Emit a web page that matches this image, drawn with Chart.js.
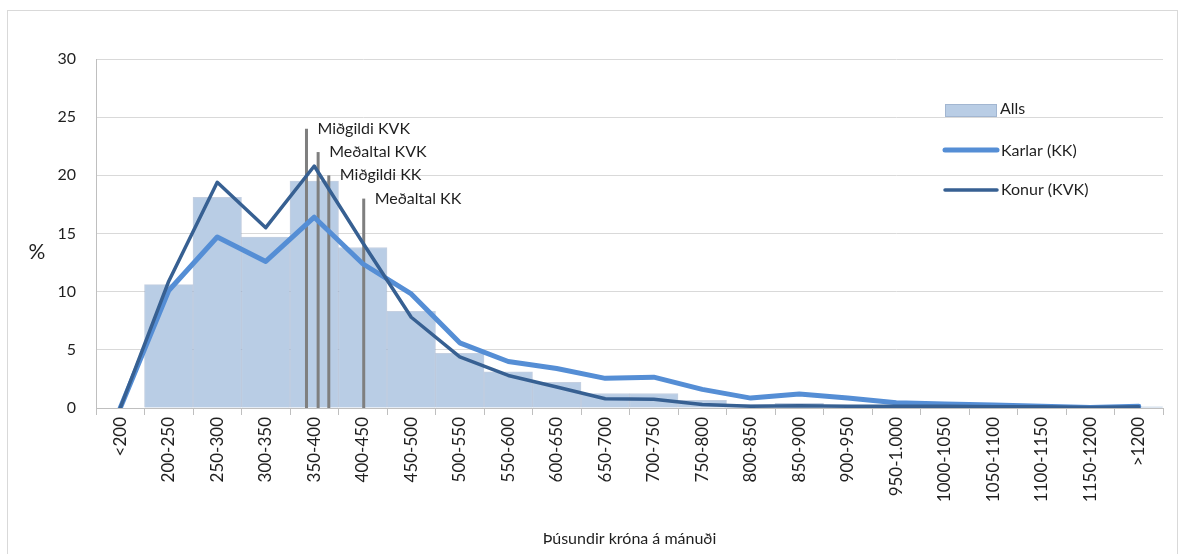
<!DOCTYPE html>
<html>
<head>
<meta charset="utf-8">
<script src="https://cdn.jsdelivr.net/npm/chart.js@4"></script>
<style>
  html, body { margin:0; padding:0; background:#fff; }
  #wrap { position:relative; width:1184px; height:554px; }
</style>
</head>
<body>
<div id="wrap"><canvas id="chart" width="1184" height="554"></canvas></div>
<script>
// categories (þús. kr. á mánuði)
const categories = ["<200","200-250","250-300","300-350","350-400","400-450","450-500","500-550","550-600","600-650","650-700","700-750","750-800","800-850","850-900","900-950","950-1.000","1000-1050","1050-1100","1100-1150","1150-1200",">1200"];

// % in each bracket
const alls   = [0, 10.6, 18.1, 14.7, 19.5, 13.8, 8.3, 4.7, 3.1, 2.2, 1.25, 1.25, 0.65, 0.3, 0.4, 0.2, 0.15, 0.1, 0.1, 0.05, 0.05, 0.1];
const karlar = [0, 10.1, 14.7, 12.6, 16.4, 12.4, 9.8, 5.6, 4.0, 3.4, 2.55, 2.65, 1.6, 0.85, 1.2, 0.85, 0.45, 0.35, 0.25, 0.15, 0.05, 0.15];
const konur  = [0, 10.9, 19.4, 15.5, 20.8, 14.2, 7.8, 4.4, 2.8, 1.8, 0.8, 0.75, 0.3, 0.15, 0.2, 0.15, 0.15, 0.15, 0.1, 0.1, 0.05, 0.1];

// median / mean markers: salary (þús. kr.) and line height (%)
const markerLabels  = ["Miðgildi KVK", "Meðaltal KVK", "Miðgildi KK", "Meðaltal KK"];
const markerSalary  = [367, 379, 390, 426];
const markerHeights = [24, 22, 20, 18];

const yTicks = [0, 5, 10, 15, 20, 25, 30];

const FONT = "Lato, 'Open Sans', sans-serif";
const TXT = "#1f1f1f";

// bracket centres: <200 -> 175, 200-250 -> 225, ...
const salaryToIndex = s => (s - 175) / 50;

const markerSets = markerLabels.map((lab, i) => ({
  type: "line",
  label: lab,
  xAxisID: "xm",
  data: [{x: salaryToIndex(markerSalary[i]), y: 0}, {x: salaryToIndex(markerSalary[i]), y: markerHeights[i]}],
  borderColor: "#7f7f7f",
  borderWidth: 3,
  pointRadius: 0,
  order: 3,
  isMarker: true
}));

const extras = {
  id: "extras",
  beforeDraw(chart){
    const c = chart.ctx;
    c.save();
    c.strokeStyle = "#d9d9d9";
    c.lineWidth = 1;
    c.strokeRect(7.5, 10.5, 1170, 600);
    c.restore();
  },
  afterDatasetsDraw(chart){
    const c = chart.ctx;
    c.save();
    c.font = "16px " + FONT;
    c.fillStyle = TXT;
    c.textBaseline = "middle";
    chart.data.datasets.forEach((ds, i) => {
      if (!ds.isMarker) return;
      const top = chart.getDatasetMeta(i).data[1];
      c.fillText(ds.label, top.x + 11, top.y);
    });
    c.restore();
  },
  afterDraw(chart){
    const c = chart.ctx, a = chart.chartArea;
    c.save();
    // y title, not rotated
    c.font = "21px " + FONT;
    c.fillStyle = TXT;
    c.textAlign = "center";
    c.textBaseline = "middle";
    c.fillText("%", 37, (a.top + a.bottom) / 2 + 19);

    // legend inside plot
    const lx = a.right - 220;
    c.font = "16px " + FONT;
    c.textAlign = "left";
    c.fillStyle = "#b9cde5";
    c.fillRect(lx + 2, a.top + 45, 52, 13);
    c.strokeStyle = "rgba(140,160,190,0.5)";
    c.lineWidth = 1;
    c.strokeRect(lx + 2.5, a.top + 45.5, 51, 12);
    c.fillStyle = TXT;
    c.fillText("Alls", lx + 57, a.top + 50);

    c.lineCap = "round";
    c.strokeStyle = "#558ed5"; c.lineWidth = 5;
    c.beginPath(); c.moveTo(lx + 2, a.top + 91); c.lineTo(lx + 54, a.top + 91); c.stroke();
    c.fillText("Karlar (KK)", lx + 58, a.top + 92);

    c.strokeStyle = "#376092"; c.lineWidth = 3.5;
    c.beginPath(); c.moveTo(lx + 2, a.top + 131); c.lineTo(lx + 54, a.top + 131); c.stroke();
    c.fillText("Konur (KVK)", lx + 58, a.top + 131);
    c.restore();
  }
};

new Chart(document.getElementById("chart"), {
  data: {
    labels: categories,
    datasets: [
      { type: "line", label: "Konur (KVK)", data: konur, borderColor: "#376092", borderWidth: 3.5,
        pointRadius: 0, tension: 0, borderJoinStyle: "round", borderCapStyle: "round", order: 1 },
      { type: "line", label: "Karlar (KK)", data: karlar, borderColor: "#558ed5", borderWidth: 5,
        pointRadius: 0, tension: 0, borderJoinStyle: "round", borderCapStyle: "round", order: 2 },
      ...markerSets,
      { type: "bar", label: "Alls", data: alls, backgroundColor: "#b9cde5",
        borderColor: "rgba(150,170,200,0.55)", borderWidth: 1, grouped: false,
        barPercentage: 1, categoryPercentage: 1, order: 5 }
    ]
  },
  options: {
    responsive: false,
    animation: false,
    layout: { padding: { top: 59, right: 21, left: 0, bottom: 0 } },
    plugins: { legend: { display: false }, tooltip: { enabled: false } },
    scales: {
      x: {
        type: "category",
        offset: true,
        grid: { offset: true, drawOnChartArea: false, drawTicks: true, tickLength: 7, color: "#bfbfbf" },
        border: { color: "#bfbfbf" },
        ticks: { minRotation: 90, maxRotation: 90, autoSkip: false, padding: 2, color: TXT, font: { size: 17, family: FONT } },
        title: { display: true, text: "Þúsundir króna á mánuði", color: TXT, font: { size: 16, family: FONT }, padding: { top: 4, bottom: 6 } },
        afterFit(s){ s.height = 146; }
      },
      xm: {
        type: "linear",
        display: false,
        min: -0.5,
        max: categories.length - 0.5
      },
      y: {
        min: 0, max: 30,
        afterBuildTicks(s){ s.ticks = yTicks.map(v => ({ value: v })); },
        grid: { color: "#d9d9d9", drawTicks: false },
        border: { color: "#bfbfbf" },
        ticks: { padding: 20, color: TXT, font: { size: 16, family: FONT } },
        afterFit(s){ s.width = 96; }
      }
    }
  },
  plugins: [extras]
});
</script>
</body>
</html>
